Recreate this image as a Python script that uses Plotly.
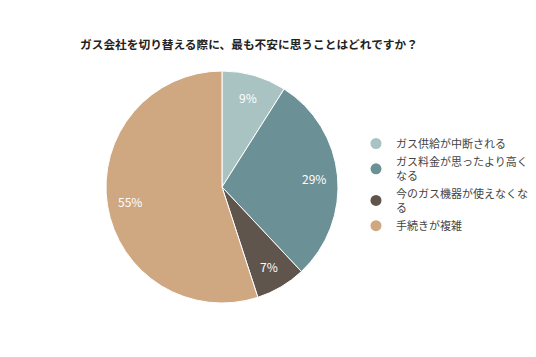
import math
import plotly.graph_objects as go

labels = ["ガス供給が中断される", "ガス料金が思ったより高く<br>なる", "今のガス機器が使えなくな<br>る", "手続きが複雑"]
values = [9, 29, 7, 55]
colors = ["#a9c3c3", "#6b9096", "#5f554c", "#cfa882"]
title = "ガス会社を切り替える際に、最も不安に思うことはどれですか？"

W, H = 536, 357
dom_x = [106 / W, 338 / W]
dom_y = [1 - 303 / H, 1 - 71 / H]

fig = go.Figure()
fig.add_trace(go.Pie(
    labels=labels, values=values, sort=False, direction="clockwise", rotation=0,
    marker=dict(colors=colors, line=dict(color="white", width=1)),
    textinfo="none",
    domain=dict(x=dom_x, y=dom_y),
    hoverinfo="label+percent", showlegend=False,
))
for lab, col in zip(labels, colors):
    fig.add_trace(go.Scatter(x=[None], y=[None], mode="markers", name=lab,
                             marker=dict(symbol="circle", size=11, color=col)))

# percentage labels placed at 0.8 of radius along each slice's middle angle
total = sum(values)
cx = (dom_x[0] + dom_x[1]) / 2 * W
cy = (dom_y[0] + dom_y[1]) / 2 * H
r = (dom_x[1] - dom_x[0]) * W / 2
cum = 0
for v in values:
    f = (cum + v / 2) / total
    cum += v
    th = math.radians(90 - 360 * f)
    px = cx + 0.8 * r * math.cos(th)
    py = cy + 0.8 * r * math.sin(th)
    fig.add_annotation(x=px / W, y=py / H, xref="paper", yref="paper", showarrow=False,
                       xanchor="center", yanchor="middle",
                       text=f"{round(100 * v / total)}%",
                       font=dict(color="white", size=12, family="Noto Sans CJK JP"))

fig.update_xaxes(visible=False)
fig.update_yaxes(visible=False)
fig.update_layout(
    width=W, height=H,
    margin=dict(l=0, r=0, t=0, b=0, autoexpand=False),
    paper_bgcolor="white", plot_bgcolor="white",
    font=dict(family="Noto Sans CJK JP", color="#333333"),
    title=dict(text="<b>" + title + "</b>", x=80 / W, xanchor="left", y=1 - 45 / H, yanchor="middle",
               font=dict(size=11.7, color="#222222")),
    legend=dict(x=356 / W, xanchor="left", y=1 - 129 / H, yanchor="top",
                font=dict(size=11, color="#444444"), itemwidth=30, tracegroupgap=0,
                bgcolor="rgba(0,0,0,0)"),
)
fig.write_html("out.html", config={"displayModeBar": False},
               post_script="document.body.style.margin='0';document.body.style.overflow='hidden';")
